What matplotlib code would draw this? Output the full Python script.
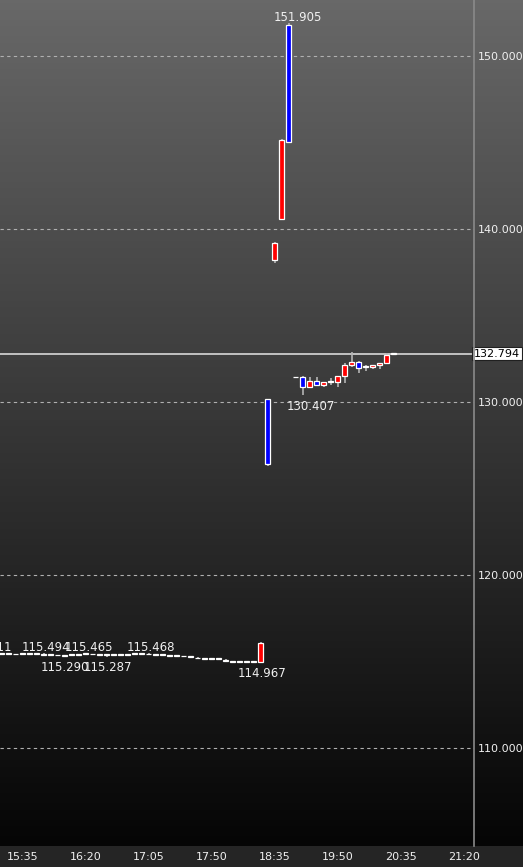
import numpy as np
import matplotlib as mpl
mpl.use('Agg')
import matplotlib.pyplot as plt

# 5-minute bars, oldest first (first two are cut off at the left edge)
opens = [115.45, 115.44, 115.42, 115.42, 115.41, 115.44, 115.45, 115.42, 115.43, 115.36,
	115.35, 115.34, 115.38, 115.40, 115.42, 115.41, 115.39, 115.36, 115.39, 115.40,
	115.40, 115.42, 115.42, 115.44, 115.39, 115.38, 115.32, 115.30, 115.29, 115.30,
	115.22, 115.13, 115.13, 115.13, 115.10, 114.99, 114.99, 114.99, 114.99, 114.99,
	130.16, 138.21, 140.56, 151.79, 131.42, 131.46, 130.89, 131.20, 130.98, 131.16,
	131.18, 131.50, 132.12, 132.31, 132.05, 132.02, 132.12, 132.24, 132.79]
highs = [115.511, 115.47, 115.45, 115.44, 115.44, 115.47, 115.48, 115.46, 115.494, 115.41,
	115.40, 115.37, 115.41, 115.43, 115.465, 115.44, 115.45, 115.40, 115.42, 115.43,
	115.43, 115.45, 115.45, 115.468, 115.41, 115.40, 115.35, 115.32, 115.31, 115.32,
	115.26, 115.16, 115.15, 115.15, 115.12, 115.02, 115.01, 115.01, 115.01, 116.11,
	130.20, 139.27, 145.20, 151.905, 131.45, 131.50, 131.46, 131.43, 131.14, 131.37,
	131.49, 132.24, 132.89, 132.36, 132.12, 132.14, 132.24, 132.82, 132.82]
lows = [115.42, 115.40, 115.39, 115.40, 115.39, 115.41, 115.42, 115.40, 115.37, 115.33,
	115.31, 115.290, 115.35, 115.37, 115.39, 115.38, 115.37, 115.287, 115.36, 115.37,
	115.38, 115.39, 115.40, 115.39, 115.37, 115.35, 115.29, 115.27, 115.26, 115.26,
	115.18, 115.11, 115.10, 115.10, 115.04, 114.97, 114.97, 114.98, 114.98, 114.967,
	126.32, 138.05, 140.50, 145.00, 131.40, 130.407, 130.80, 130.95, 130.89, 130.98,
	130.85, 131.12, 132.00, 131.66, 131.77, 131.89, 131.89, 132.20, 132.76]
closes = [115.45, 115.44, 115.42, 115.42, 115.41, 115.44, 115.45, 115.42, 115.39, 115.39,
	115.38, 115.34, 115.38, 115.40, 115.42, 115.41, 115.43, 115.36, 115.39, 115.40,
	115.40, 115.42, 115.42, 115.41, 115.39, 115.38, 115.32, 115.30, 115.29, 115.28,
	115.18, 115.13, 115.13, 115.13, 115.05, 114.99, 114.99, 114.99, 114.99, 116.09,
	126.42, 139.21, 145.15, 145.05, 131.44, 130.89, 131.20, 130.98, 131.14, 131.16,
	131.49, 132.14, 132.31, 131.99, 132.05, 132.14, 132.24, 132.72, 132.794]

time_labels = ['15:35', '16:20', '17:05', '17:50', '18:35', '19:50', '20:35', '21:20']
first_label_bar = 5
label_step = 9

price_levels = [110, 120, 130, 140, 150]

# marked highs / lows: (bar, value, above?)
marks = [(0, 115.511, True), (8, 115.494, True), (14, 115.465, True), (23, 115.468, True),
	(11, 115.290, False), (17, 115.287, False), (39, 114.967, False),
	(43, 151.905, True), (45, 130.407, False)]
mark_dx = [0, 2, 3, 2, 0, 1, 1, 9, 8]   # pixel nudges

W, H = 523, 867
strip = 21
plot_w = 474

fig = plt.figure(figsize=(W/100, H/100), dpi=100)
fig.patch.set_facecolor('#252525')
b = strip/H

# gradient background
bg = fig.add_axes([0, b, 1, 1-b])
g = np.linspace(0x68, 0x05, 256)/255.
img = np.dstack([g, g, g]).reshape(256, 1, 3)
bg.imshow(img, aspect='auto', extent=[0, 1, 0, 1])
bg.set_axis_off()

ax = fig.add_axes([0, b, plot_w/W, 1-b])
ax.patch.set_alpha(0)
for s in ax.spines.values():
	s.set_visible(False)
fig.add_artist(plt.Line2D([plot_w/W, plot_w/W], [b, 1], color='#8a8a8a', lw=1.2))

x = np.arange(len(opens))
o = np.array(opens); c = np.array(closes)
ax.vlines(x, lows, highs, color='#b4b4b4', lw=1.2, zorder=2)
cols = np.where(c > o, '#ff0000', np.where(c < o, '#0000ff', '#c8c8c8'))
body_lo = np.minimum(o, c)
body_h = np.maximum(np.abs(c - o), 0.05)
ax.bar(x, body_h, bottom=body_lo, width=0.72, color=cols, edgecolor='white', lw=0.9, zorder=3)

last = closes[-1]
ax.axhline(last, color='#d8d8d8', lw=1.2, zorder=1)

ax.set_xlim(1.76, 69.47)
ax.set_ylim(104.335, 153.237)

ax.set_yticks(price_levels)
ax.set_yticklabels(['%.3f' % v for v in price_levels])
ax.yaxis.tick_right()
ax.tick_params(axis='y', length=0, pad=3, labelsize=8, labelcolor='#f0f0f0')
ax.grid(axis='y', ls=(0, (3, 3)), color='#b0b0b0', lw=0.8)

ax.set_xticks([first_label_bar + label_step*k for k in range(len(time_labels))])
ax.set_xticklabels(time_labels)
ax.tick_params(axis='x', length=0, pad=4, labelsize=8, labelcolor='#f0f0f0')

ax.text(1.0, last, '%.3f' % last, transform=ax.get_yaxis_transform(), ha='left', va='center',
	fontsize=8, color='black', zorder=5,
	bbox=dict(boxstyle='square,pad=0.15', fc='white', ec='#202020', lw=0.8))

for (i, v, up), dx in zip(marks, mark_dx):
	if up:
		ax.annotate('%.3f' % v, (i, v), xytext=(dx*0.72, 1.5), textcoords='offset points',
			ha='center', va='baseline', fontsize=8.5, color='#f0f0f0', zorder=6,
			annotation_clip=False)
	else:
		ax.annotate('%.3f' % v, (i, v), xytext=(dx*0.72, -3.5), textcoords='offset points',
			ha='center', va='top', fontsize=8.5, color='#f0f0f0', zorder=6,
			annotation_clip=False)

fig.savefig('out.png', dpi=100)
